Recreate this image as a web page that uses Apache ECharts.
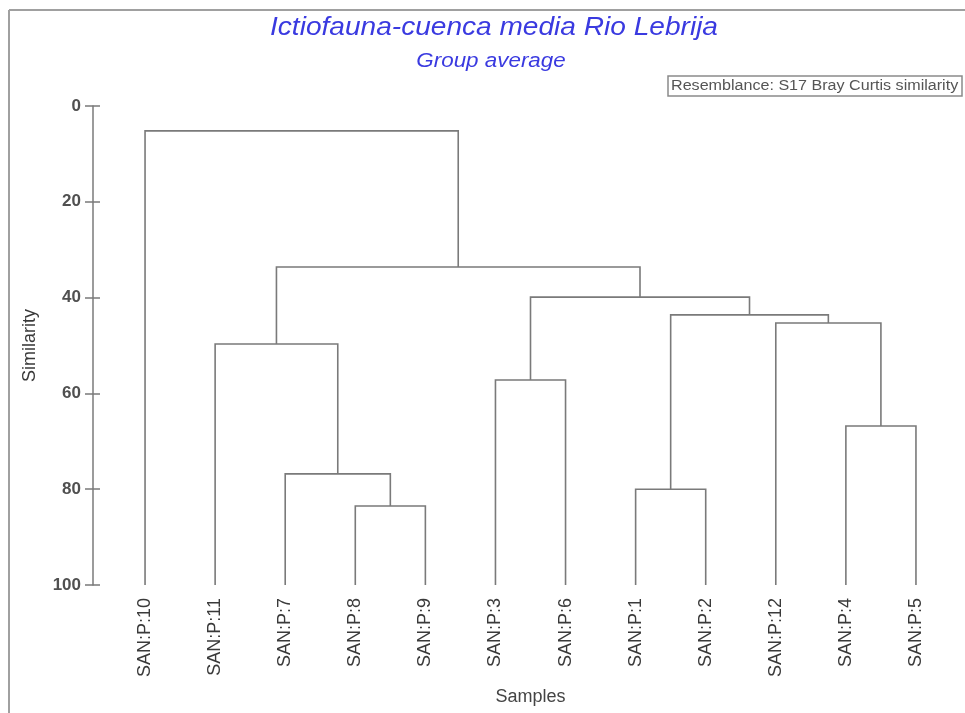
<!DOCTYPE html>
<html>
<head>
<meta charset="utf-8">
<script src="https://cdn.jsdelivr.net/npm/echarts@6/dist/echarts.min.js"></script>
<style>html,body{margin:0;padding:0;background:#fff;}#c{width:965px;height:713px;}</style>
</head>
<body>
<div id="c"></div>
<script>
// Leaf samples in dendrogram order
const leaves = ['SAN:P:10','SAN:P:11','SAN:P:7','SAN:P:8','SAN:P:9','SAN:P:3','SAN:P:6','SAN:P:1','SAN:P:2','SAN:P:12','SAN:P:4','SAN:P:5'];
// Merges (agglomeration order); node ids 0..11 = leaves, 12.. = merge results
const mergeA = [3, 7, 2, 10, 5, 1, 9, 13, 16, 17, 0];
const mergeB = [4, 8, 12, 11, 6, 14, 15, 18, 19, 20, 21];
const mergeSim = [83.5, 80.0, 76.8, 66.8, 57.2, 49.7, 45.3, 43.6, 39.9, 33.6, 5.2];
const yTicks = [0, 20, 40, 60, 80, 100];

// Build node positions (x = leaf index / mean of children, y = similarity)
const nodeX = leaves.map((_, i) => i);
const nodeY = leaves.map(() => 100);
const segs = [];
mergeA.forEach((a, k) => {
  const b = mergeB[k], h = mergeSim[k];
  segs.push([nodeX[a], nodeY[a], nodeX[b], nodeY[b], h]);
  nodeX.push((nodeX[a] + nodeX[b]) / 2);
  nodeY.push(h);
});

const LINE = '#7a7a7a';
const FONT = 'Liberation Sans, Arial, sans-serif';
const chart = echarts.init(document.getElementById('c'));
chart.setOption({
  backgroundColor: '#fff',
  animation: false,
  grid: { left: 110, right: 14, top: 106, bottom: 128 },
  xAxis: [
    { type: 'category', data: leaves, boundaryGap: true, position: 'bottom',
      axisLine: { show: false, onZero: false }, axisTick: { show: false },
      axisLabel: { rotate: 90, margin: 13, fontSize: 18, color: '#3a3a3a', fontFamily: FONT, interval: 0 },
      name: 'Samples', nameLocation: 'middle', nameGap: 103,
      nameTextStyle: { fontSize: 18, color: '#444', fontFamily: FONT } },
    { type: 'value', min: -0.5, max: leaves.length - 0.5, show: false, axisLine: { onZero: false } }
  ],
  yAxis: [
    { type: 'value', inverse: true, min: 0, max: 100, interval: 20, offset: 17, position: 'left',
      splitLine: { show: false },
      axisLine: { show: true, onZero: false, lineStyle: { color: LINE, width: 1.5 } },
      axisTick: { show: true, length: 8, lineStyle: { color: LINE, width: 1.5 } },
      axisLabel: { margin: 12, fontSize: 17, fontWeight: 'bold', color: '#505050', fontFamily: FONT,
        formatter: v => yTicks.includes(v) ? String(v) : '' },
      name: 'Similarity', nameLocation: 'middle', nameGap: 54,
      nameTextStyle: { fontSize: 18, color: '#3a3a3a', fontFamily: FONT } },
    { type: 'value', inverse: true, min: 0, max: 100, interval: 20, offset: 17, position: 'left',
      splitLine: { show: false }, axisLine: { show: false, onZero: false },
      axisTick: { show: true, inside: true, length: 7, lineStyle: { color: LINE, width: 1.5 } },
      axisLabel: { show: false } }
  ],
  series: [{
    type: 'custom',
    xAxisIndex: 1, yAxisIndex: 0,
    data: segs,
    encode: { x: [0, 2], y: [1, 3, 4] },
    renderItem: (params, api) => {
      const p1 = api.coord([api.value(0), api.value(1)]);
      const p2 = api.coord([api.value(0), api.value(4)]);
      const p3 = api.coord([api.value(2), api.value(4)]);
      const p4 = api.coord([api.value(2), api.value(3)]);
      return { type: 'polyline', shape: { points: [p1, p2, p3, p4] },
        style: { stroke: LINE, lineWidth: 1.6, fill: null } };
    }
  }],
  graphic: [
    { type: 'line', shape: { x1: 9, y1: 10, x2: 965, y2: 10 }, style: { stroke: '#a0a0a0', lineWidth: 2 } },
    { type: 'line', shape: { x1: 9, y1: 10, x2: 9, y2: 713 }, style: { stroke: '#a0a0a0', lineWidth: 2 } },
    { type: 'text', x: 494, y: 28, scaleX: 1.08, style: { text: 'Ictiofauna-cuenca media Rio Lebrija', fontSize: 26, fontStyle: 'italic',
        fill: '#3a3ae0', fontFamily: FONT, align: 'center', verticalAlign: 'middle' } },
    { type: 'text', x: 491, y: 61, scaleX: 1.12, style: { text: 'Group average', fontSize: 20, fontStyle: 'italic',
        fill: '#3a3ae0', fontFamily: FONT, align: 'center', verticalAlign: 'middle' } },
    { type: 'rect', shape: { x: 668, y: 76, width: 294, height: 20 }, style: { stroke: '#8a8a8a', fill: '#fff', lineWidth: 1.5 } },
    { type: 'text', x: 671, y: 86.5, scaleX: 1.15, style: { text: 'Resemblance: S17 Bray Curtis similarity', fontSize: 14,
        fill: '#555', fontFamily: FONT, align: 'left', verticalAlign: 'middle' } }
  ]
});
</script>
</body>
</html>
